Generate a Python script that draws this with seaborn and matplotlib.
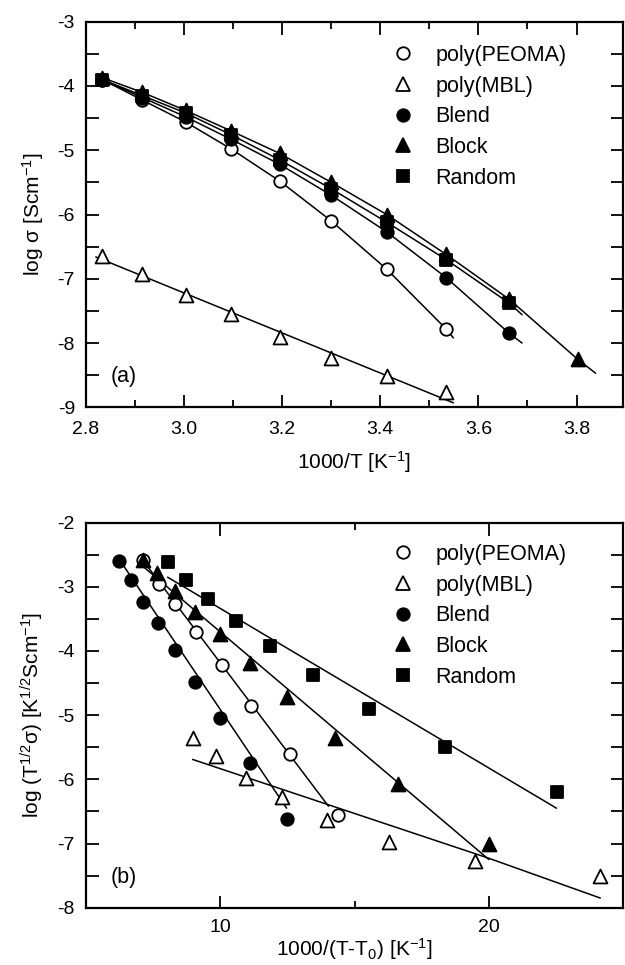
import numpy as np
import matplotlib
matplotlib.use("Agg")
import matplotlib.pyplot as plt
from matplotlib.lines import Line2D
from matplotlib.ticker import MultipleLocator, FixedLocator, FuncFormatter
import seaborn as sns

# ---- panel (a): log sigma vs 1000/T ----
x_a = [2.833, 2.915, 3.003, 3.096, 3.195, 3.300, 3.413, 3.534, 3.663, 3.802]

peoma_a = [-3.90, -4.22, -4.56, -4.98, -5.48, -6.10, -6.85, -7.78]
mbl_a = [-6.65, -6.93, -7.25, -7.55, -7.90, -8.24, -8.52, -8.76]
blend_a = [-3.90, -4.18, -4.48, -4.83, -5.22, -5.70, -6.27, -6.98, -7.85]
block_a = [-3.87, -4.10, -4.38, -4.70, -5.05, -5.50, -6.00, -6.62, -7.32, -8.25]
random_a = [-3.90, -4.15, -4.42, -4.76, -5.15, -5.60, -6.12, -6.70, -7.38]

# end points of the drawn curves (extension past last point)
peoma_a_end = (3.549, -7.92)
blend_a_end = (3.689, -8.00)
block_a_end = (3.839, -8.47)
random_a_end = (3.689, -7.56)
mbl_a_fit_x = [2.820, 3.549]
mbl_a_fit_y = [-6.66, -8.93]

# ---- panel (b): VTF plot ----
peoma_bx = [7.12, 7.70, 8.33, 9.11, 10.06, 11.15, 12.58, 14.37]
peoma_by = [-2.58, -2.95, -3.27, -3.71, -4.22, -4.86, -5.61, -6.55]
mbl_bx = [8.97, 9.85, 10.95, 12.28, 13.96, 16.30, 19.47, 24.15]
mbl_by = [-5.35, -5.63, -5.98, -6.27, -6.64, -6.98, -7.27, -7.51]
blend_bx = [6.22, 6.67, 7.14, 7.69, 8.33, 9.07, 10.00, 11.10, 12.48]
blend_by = [-2.59, -2.90, -3.23, -3.56, -3.99, -4.48, -5.05, -5.75, -6.62]
block_bx = [7.12, 7.66, 8.33, 9.07, 10.00, 11.10, 12.48, 14.26, 16.63, 20.00]
block_by = [-2.58, -2.79, -3.06, -3.39, -3.74, -4.18, -4.71, -5.36, -6.07, -7.01]
random_bx = [8.04, 8.72, 9.55, 10.59, 11.85, 13.44, 15.54, 18.37, 22.52]
random_by = [-2.62, -2.89, -3.19, -3.54, -3.93, -4.38, -4.90, -5.49, -6.19]

# fitted lines in panel (b)
peoma_fit_x, peoma_fit_y = [7.07, 14.03], [-2.56, -6.42]
mbl_fit_x, mbl_fit_y = [8.97, 20.0, 24.15], [-5.69, -7.23, -7.85]
blend_fit_x, blend_fit_y = [6.22, 12.47], [-2.56, -6.45]
block_fit_x, block_fit_y = [6.92, 20.0], [-2.61, -7.25]
random_fit_x, random_fit_y = [8.04, 22.52], [-2.85, -6.45]

labels = ["poly(PEOMA)", "poly(MBL)", "Blend", "Block", "Random"]

sns.set_style("ticks")
plt.rcParams['font.family'] = ['Liberation Sans', 'DejaVu Sans']
plt.rcParams['mathtext.fontset'] = 'custom'
plt.rcParams['mathtext.rm'] = 'Liberation Sans'
plt.rcParams['mathtext.default'] = 'regular'
plt.rcParams['axes.unicode_minus'] = False
for k in ['text.color', 'axes.labelcolor', 'xtick.color', 'ytick.color', 'axes.edgecolor']:
    plt.rcParams[k] = 'black'

styles = {
    "poly(PEOMA)": dict(marker='o', open=True, ms=9),
    "poly(MBL)": dict(marker='^', open=True, ms=10),
    "Blend": dict(marker='o', open=False, ms=9),
    "Block": dict(marker='^', open=False, ms=10),
    "Random": dict(marker='s', open=False, ms=9),
}

LW = 1.1


def draw_points(ax, xs, ys, name):
    st = styles[name]
    fc = 'white' if st['open'] else 'black'
    sns.scatterplot(x=xs, y=ys, ax=ax, marker=st['marker'], s=st['ms'] ** 2,
                    facecolor=fc, edgecolor='black', linewidth=1.3, zorder=5)


def draw_line(ax, xs, ys):
    sns.lineplot(x=xs, y=ys, ax=ax, color='black', lw=LW, sort=False,
                 estimator=None, zorder=3)


def style_axes(ax, xpad, tpad):
    for s in ax.spines.values():
        s.set_linewidth(1.6)
        s.set_visible(True)
    ax.tick_params(which='both', direction='in', top=True, right=True,
                   width=1.3, labelsize=14, pad=8)
    ax.tick_params(axis='x', which='both', pad=tpad)
    ax.tick_params(which='major', length=9)
    ax.set_xlabel(ax.get_xlabel(), fontsize=15, labelpad=xpad)


def add_legend(ax, anchor):
    handles = []
    for name in labels:
        st = styles[name]
        fc = 'white' if st['open'] else 'black'
        handles.append(Line2D([], [], ls='none', marker=st['marker'], ms=st['ms'],
                              mfc=fc, mec='black', mew=1.3))
    ax.legend(handles, labels, loc='upper left', bbox_to_anchor=anchor,
              frameon=False, fontsize=15.5, handlelength=1.0, handletextpad=1.0,
              labelspacing=0.45, borderpad=0.0, borderaxespad=0.0)


fig = plt.figure(figsize=(6.25, 9.65), dpi=100)
ax1 = fig.add_axes([0.1376, 0.5779, 0.8594, 0.3996])
ax2 = fig.add_axes([0.1376, 0.0594, 0.8594, 0.3990])

# panel (a)
draw_line(ax1, x_a[:8] + [peoma_a_end[0]], peoma_a + [peoma_a_end[1]])
draw_line(ax1, mbl_a_fit_x, mbl_a_fit_y)
draw_line(ax1, x_a[:9] + [blend_a_end[0]], blend_a + [blend_a_end[1]])
draw_line(ax1, x_a + [block_a_end[0]], block_a + [block_a_end[1]])
draw_line(ax1, x_a[:9] + [random_a_end[0]], random_a + [random_a_end[1]])
draw_points(ax1, x_a[:8], mbl_a, "poly(MBL)")
draw_points(ax1, x_a[:8], peoma_a, "poly(PEOMA)")
draw_points(ax1, x_a[:9], blend_a, "Blend")
draw_points(ax1, x_a[:9], random_a, "Random")
draw_points(ax1, x_a, block_a, "Block")

ax1.set_xlim(2.8, 3.895)
ax1.set_ylim(-9, -3)
ax1.xaxis.set_major_locator(MultipleLocator(0.2))
ax1.xaxis.set_minor_locator(MultipleLocator(0.1))
ax1.xaxis.set_major_formatter(FuncFormatter(lambda v, p: f"{v:.1f}"))
ax1.yaxis.set_major_locator(MultipleLocator(1))
ax1.yaxis.set_minor_locator(MultipleLocator(0.5))
ax1.yaxis.set_major_formatter(FuncFormatter(lambda v, p: f"{v:.0f}"))
ax1.set_xlabel("1000/T [K$^{-1}$]")
ax1.set_ylabel("log σ [Scm$^{-1}$]", fontsize=15, labelpad=8)
style_axes(ax1, 8, 10)
ax1.tick_params(which='minor', length=9, axis='y')
ax1.tick_params(which='minor', length=5, axis='x')
ax1.text(0.045, 0.065, "(a)", transform=ax1.transAxes, fontsize=15.5)
add_legend(ax1, (0.57, 0.94))

# panel (b)
draw_line(ax2, peoma_fit_x, peoma_fit_y)
draw_line(ax2, mbl_fit_x, mbl_fit_y)
draw_line(ax2, blend_fit_x, blend_fit_y)
draw_line(ax2, block_fit_x, block_fit_y)
draw_line(ax2, random_fit_x, random_fit_y)
draw_points(ax2, mbl_bx, mbl_by, "poly(MBL)")
draw_points(ax2, peoma_bx, peoma_by, "poly(PEOMA)")
draw_points(ax2, blend_bx, blend_by, "Blend")
draw_points(ax2, random_bx, random_by, "Random")
draw_points(ax2, block_bx, block_by, "Block")

ax2.set_xlim(5, 25)
ax2.set_ylim(-8, -2)
ax2.xaxis.set_major_locator(FixedLocator([10, 20]))
ax2.xaxis.set_minor_locator(FixedLocator([15]))
ax2.yaxis.set_major_locator(MultipleLocator(1))
ax2.yaxis.set_minor_locator(MultipleLocator(0.5))
ax2.yaxis.set_major_formatter(FuncFormatter(lambda v, p: f"{v:.0f}"))
ax2.set_xlabel("1000/(T-T$_0$) [K$^{-1}$]")
ax2.set_ylabel("log (T$^{1/2}$σ) [K$^{1/2}$Scm$^{-1}$]", fontsize=15, labelpad=8)
style_axes(ax2, 0.5, 8)
ax2.tick_params(which='minor', length=9, axis='y')
ax2.tick_params(which='minor', length=5, axis='x')
ax2.text(0.045, 0.065, "(b)", transform=ax2.transAxes, fontsize=15.5)
add_legend(ax2, (0.57, 0.945))

fig.savefig("out.png", dpi=100)
